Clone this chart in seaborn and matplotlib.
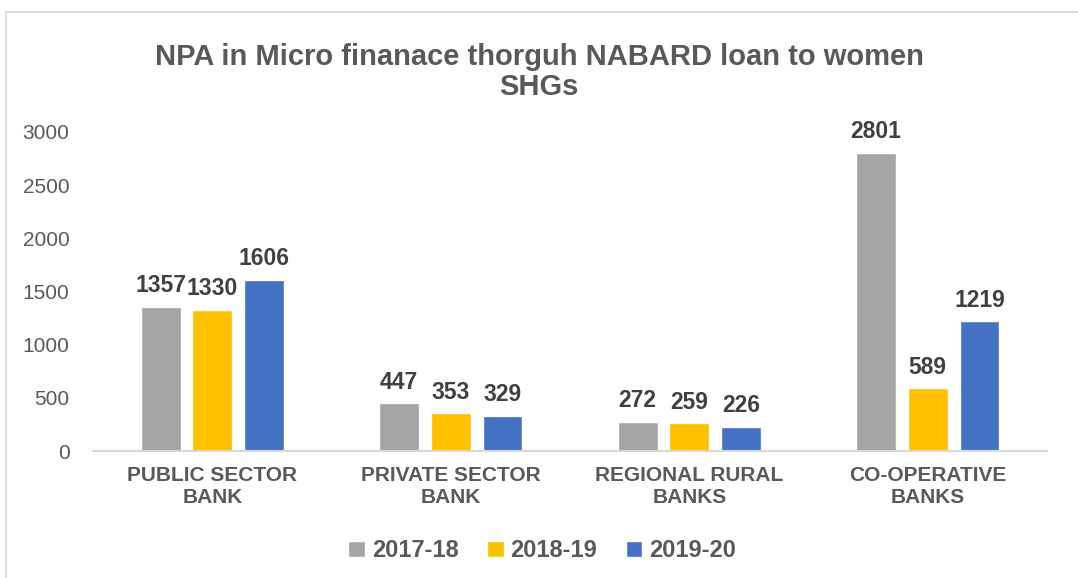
import matplotlib
matplotlib.use('Agg')
import matplotlib.pyplot as plt
from matplotlib.patches import Rectangle
import seaborn as sns
import pandas as pd

# data
categories = ['PUBLIC SECTOR\nBANK', 'PRIVATE SECTOR\nBANK', 'REGIONAL RURAL\nBANKS', 'CO-OPERATIVE\nBANKS']
years = ['2017-18', '2018-19', '2019-20']
npa_2017_18 = [1357, 447, 272, 2801]
npa_2018_19 = [1330, 353, 259, 589]
npa_2019_20 = [1606, 329, 226, 1219]
colors = ['#A5A5A5', '#FFC000', '#4472C4']

df = pd.DataFrame({
    'bank': categories * 3,
    'year': [years[0]] * 4 + [years[1]] * 4 + [years[2]] * 4,
    'npa': npa_2017_18 + npa_2018_19 + npa_2019_20,
})

sns.set_style('white')
plt.rcParams['font.family'] = ['Liberation Sans', 'DejaVu Sans']
text_col = '#595959'

fig = plt.figure(figsize=(10.78, 5.78), dpi=100)
ax = fig.add_axes([0.0863, 0.2197, 0.885, 0.552])

sns.barplot(data=df, x='bank', y='npa', hue='year', palette=colors,
            width=0.65, gap=0.23, saturation=1, ax=ax, legend=True)

for cont in ax.containers:
    ax.bar_label(cont, fmt='%d', padding=7, fontsize=16.5, fontweight='bold', color='#404040')

ax.set_xlim(-0.5, 3.5)
ax.set_ylim(0, 3000)
ax.set_yticks(range(0, 3001, 500))
ax.set_xlabel('')
ax.set_ylabel('')
ax.tick_params(axis='y', labelsize=15, labelcolor=text_col, length=0, pad=17)
ax.tick_params(axis='x', labelsize=15, labelcolor=text_col, length=0, pad=11)
for lab in ax.get_xticklabels():
    lab.set_fontweight('bold')
    lab.set_linespacing(1.2)

for s in ['top', 'right', 'left']:
    ax.spines[s].set_visible(False)
ax.spines['bottom'].set_color('#D9D9D9')
ax.spines['bottom'].set_linewidth(1.5)

handles, labels = ax.get_legend_handles_labels()
ax.legend_.remove()
fig.legend(handles, labels, loc='center', bbox_to_anchor=(0.503, 0.047), ncol=3,
           frameon=False, handlelength=0.7, handleheight=0.7, handletextpad=0.3,
           columnspacing=1.2, prop={'size': 17, 'weight': 'bold'}, labelcolor=text_col)

fig.text(0.5, 0.875, 'NPA in Micro finanace thorguh NABARD loan to women\nSHGs',
         ha='center', va='center', fontsize=21, fontweight='bold', color=text_col,
         linespacing=1.1)

# chart border
fig.patches.append(Rectangle((6 / 1078, -0.1), 1.2, 1 - 12 / 578 + 0.1,
                             transform=fig.transFigure, fill=False,
                             edgecolor='#D9D9D9', linewidth=1.2))

fig.savefig('out.png', dpi=100)
